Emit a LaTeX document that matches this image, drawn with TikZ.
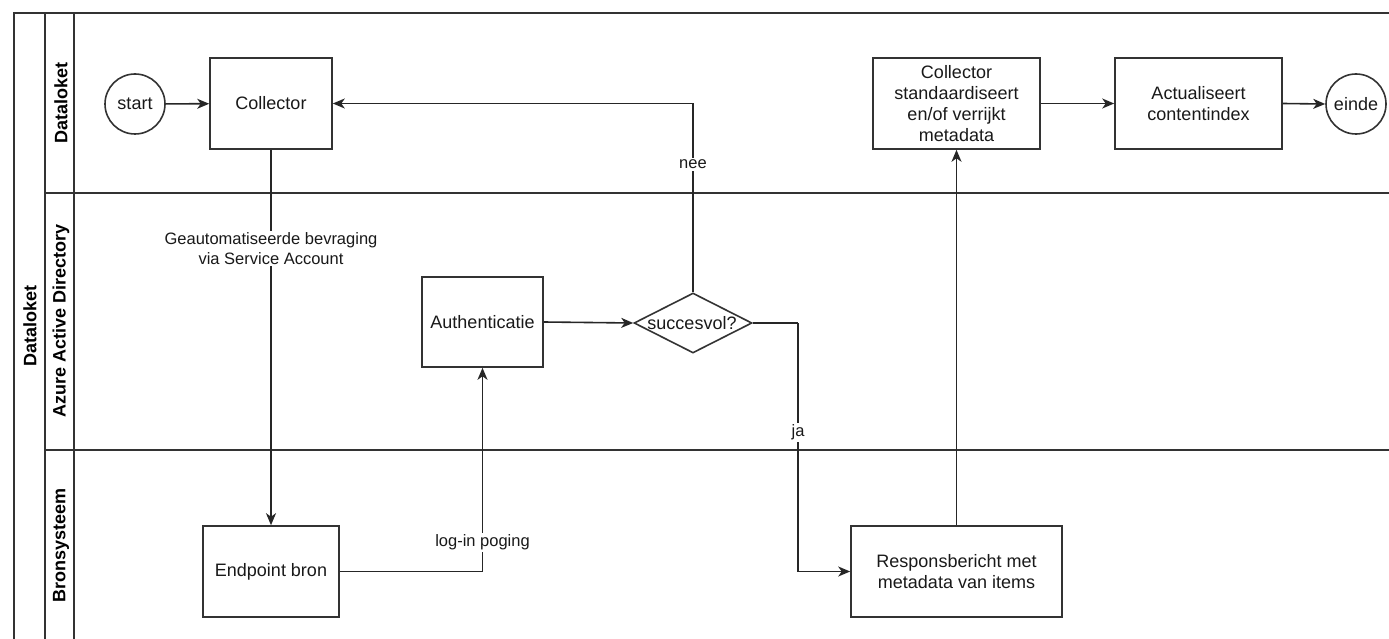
\documentclass[tikz,border=0pt]{standalone}
\usepackage{fontspec}
\setmainfont{Liberation Sans}
\usetikzlibrary{arrows.meta,shapes.geometric}
\begin{document}
\begin{tikzpicture}[x=1pt,y=-1pt,
  frame/.style={line width=1.6pt, draw=black!80},
  box/.style={draw=black!80, line width=1.6pt, rectangle, inner sep=0pt, align=center,
              font=\fontsize{18}{21}\selectfont, text=black!90},
  ev/.style={draw=black!80, line width=1.6pt, circle, minimum size=60pt, inner sep=0pt,
              font=\fontsize{18}{21}\selectfont, text=black!90},
  dia/.style={draw=black!80, line width=1.6pt, diamond, inner sep=0pt,
              minimum width=118pt, minimum height=60pt},
  dtxt/.style={inner sep=0pt, font=\fontsize{18}{21}\selectfont, text=black!90},
  conn/.style={draw=black!85, line width=1.6pt, -{Stealth[length=12pt,width=10pt,inset=3.5pt]}},
  plain/.style={draw=black!85, line width=1.6pt},
  lbl/.style={fill=white, inner sep=2pt, align=center, text=black!90,
              font=\fontsize{16.5}{19.5}\selectfont},
  lanelbl/.style={rotate=90, inner sep=0pt, text=black,
              font=\bfseries\fontsize{18}{21}\selectfont}
]
\useasboundingbox (0,0) rectangle (1389,639);

% pool and lanes
\draw[frame] (14,639) -- (14,13) -- (1389,13);
\draw[frame] (45,13) -- (45,639);
\draw[frame] (74,13) -- (74,639);
\draw[frame] (45,193) -- (1389,193);
\draw[frame] (45,450) -- (1389,450);

\node[lanelbl] (pool) at (30,326) {Dataloket};
\node[lanelbl] (lane1) at (61,103) {Dataloket};
\node[lanelbl] (lane2) at (61,321) {Azure Active Directory};
\node[lanelbl] (lane3) at (61,545) {Bronsysteem};

% nodes
\node[ev] (start) at (135,104) {start};
\node[box, minimum width=122pt, minimum height=91pt] (col) at (271,103.5) {Collector};
\node[box, minimum width=136pt, minimum height=91pt] (end) at (271,571.5) {Endpoint bron};
\node[box, minimum width=121pt, minimum height=90pt] (auth) at (482.5,322) {Authenticatie};
\node[dia] (dec) at (693,323) {};
\node[dtxt] (dectxt) at (692,323) {succesvol?};
\node[box, minimum width=211pt, minimum height=91pt] (resp) at (956.5,571.5) {Responsbericht met\\metadata van items};
\node[box, minimum width=167pt, minimum height=91pt] (std) at (956.5,103.5) {Collector\\standaardiseert\\en/of verrijkt\\metadata};
\node[box, minimum width=167pt, minimum height=91pt] (act) at (1198.5,103.5) {Actualiseert\\contentindex};
\node[ev] (einde) at (1356,104) {einde};

\coordinate (jacorner) at (798,323);

% connectors
\draw[conn] (start) -- (col);
\draw[conn] (col.south) -- node[lbl, pos=0.263] (l1) {Geautomatiseerde bevraging\\via Service Account} (end.north);
\draw[conn] (end.east) -| node[lbl, pos=0.571] (l2) {log-in poging} (auth.south);
\draw[conn] (auth.east) -- (dec.west);
\draw[conn] (dec.north) |- node[lbl, pos=0.339] (l3) {nee} (col.east);
\draw[plain] (dec.east) -- (jacorner);
\draw[conn] (jacorner) |- node[lbl, pos=0.22] (l4) {ja} (resp.west);
\draw[conn] (resp.north) -- (std.south);
\draw[conn] (std.east) -- (act.west);
\draw[conn] (act.east) -- (einde.west);
\end{tikzpicture}
\end{document}
